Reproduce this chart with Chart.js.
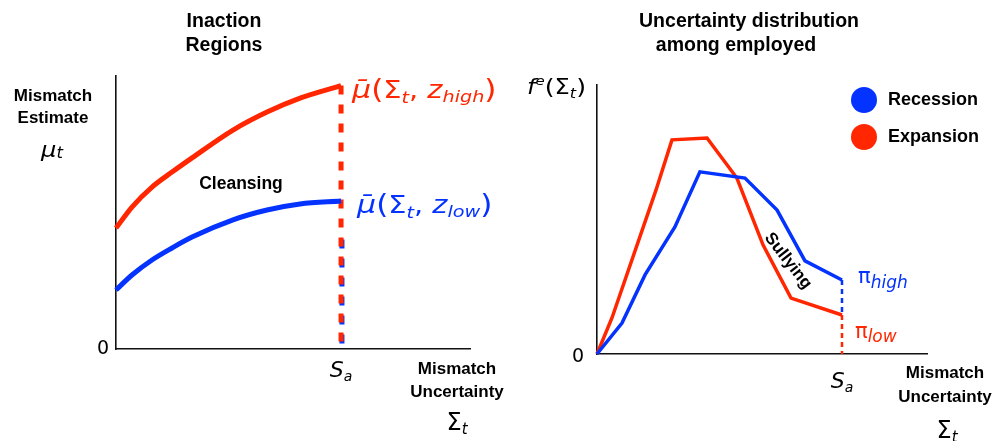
<!DOCTYPE html>
<html>
<head>
<meta charset="utf-8">
<script src="https://cdn.jsdelivr.net/npm/chart.js@4.4.1/dist/chart.umd.min.js"></script>
<style>
  html, body { margin: 0; padding: 0; background: #fff; }
  #wrap { position: relative; width: 997px; height: 441px; overflow: hidden; }
  #wrap canvas { position: absolute; left: 0; top: 0; }
</style>
</head>
<body>
<div id="wrap">
  <canvas id="inaction" width="997" height="441"></canvas>
  <canvas id="distribution" width="997" height="441"></canvas>
</div>
<script>
// ---- Inaction regions (uncertainty measured in units of S_a) ----
const SA = 1;
const sigmaGrid = [0, 0.071, 0.16, 0.249, 0.338, 0.52, 0.671, 0.818, 1];
const muHigh    = [0.443, 0.520, 0.593, 0.648, 0.700, 0.802, 0.868, 0.919, 0.965];
const muLow     = [0.216, 0.271, 0.326, 0.370, 0.410, 0.473, 0.509, 0.531, 0.542];
const lowDashTop = 0.41;

// ---- Uncertainty distribution among employed ----
const recessionX = [0, 0.102, 0.196, 0.318, 0.420, 0.604, 0.735, 0.849, 1];
const recessionY = [0, 0.115, 0.294, 0.472, 0.677, 0.654, 0.535, 0.346, 0.275];
const expansionX = [0, 0.061, 0.241, 0.306, 0.449, 0.571, 0.678, 0.792, 1];
const expansionY = [0, 0.134, 0.610, 0.796, 0.803, 0.654, 0.405, 0.208, 0.145];

const legendLabels = ['Recession', 'Expansion'];
const RED = '#ff2600';
const BLUE = '#0433ff';
const SANS = '"Liberation Sans", Arial, sans-serif';
const MATH = '"DejaVu Sans", sans-serif';
const DASH = [9, 10];

const pts = (xs, ys) => xs.map((x, i) => ({ x, y: ys[i] }));

// Draw a run of differently styled text pieces on one baseline,
// optionally stretched horizontally by hs.
function textRun(ctx, x, y, parts, color, align, hs) {
  hs = hs || 1;
  ctx.save();
  ctx.fillStyle = color;
  ctx.textBaseline = 'alphabetic';
  ctx.textAlign = 'left';
  let w = 0;
  for (const p of parts) { ctx.font = p[1]; w += ctx.measureText(p[0]).width; }
  const x0 = align === 'center' ? x - w * hs / 2 : x;
  ctx.translate(x0, y);
  ctx.scale(hs, 1);
  let cx = 0;
  for (const p of parts) {
    ctx.font = p[1];
    ctx.fillText(p[0], cx, p[2] || 0);
    cx += ctx.measureText(p[0]).width;
  }
  ctx.restore();
}

function label(ctx, text, x, y, font, color, align) {
  ctx.save();
  ctx.font = font;
  ctx.fillStyle = color || '#000';
  ctx.textAlign = align || 'center';
  ctx.textBaseline = 'middle';
  ctx.fillText(text, x, y);
  ctx.restore();
}

function axisScales(xMax) {
  const common = {
    type: 'linear',
    grid: { display: false, drawTicks: false },
    ticks: { display: false },
    border: { display: true, color: '#111', width: 1.6 }
  };
  return {
    x: Object.assign({}, common, { min: 0, max: xMax }),
    y: Object.assign({}, common, { min: 0, max: 1 })
  };
}

const baseOptions = {
  responsive: false,
  animation: false,
  events: [],
  plugins: { legend: { display: false }, tooltip: { enabled: false }, title: { display: false } },
  elements: { point: { radius: 0 } }
};

// ---------------- Left: inaction regions ----------------
const inactionText = {
  id: 'inactionText',
  afterDraw(chart) {
    const ctx = chart.ctx;
    const xs = chart.scales.x, ys = chart.scales.y;
    const xa = xs.getPixelForValue(SA);
    label(ctx, 'Inaction', 224, 22, 'bold 19.5px ' + SANS);
    label(ctx, 'Regions', 224, 46, 'bold 19.5px ' + SANS);
    label(ctx, 'Mismatch', 53, 96, 'bold 17px ' + SANS);
    label(ctx, 'Estimate', 53, 118, 'bold 17px ' + SANS);
    textRun(ctx, 52, 157, [['μ', 'italic 22px ' + MATH], ['t', 'italic 15px ' + MATH, 1]], '#000', 'center', 1.1);
    label(ctx, 'Cleansing', 241, 184, 'bold 17.5px ' + SANS);
    label(ctx, '0', 103, ys.getPixelForValue(0), '19px ' + MATH);
    textRun(ctx, xa, 377, [['S', 'italic 22px ' + MATH], ['a', 'italic 14px ' + MATH, 4]], '#000', 'center');
    label(ctx, 'Mismatch', 457, 369, 'bold 17px ' + SANS);
    label(ctx, 'Uncertainty', 457, 392, 'bold 17px ' + SANS);
    textRun(ctx, 457, 430, [['Σ', '24px ' + MATH], ['t', 'italic 15px ' + MATH, 4]], '#000', 'center');
    const yHigh = ys.getPixelForValue(muHigh[muHigh.length - 1]);
    const yLow = ys.getPixelForValue(muLow[muLow.length - 1]);
    const M = 'px ' + MATH;
    textRun(ctx, xa + 11, yHigh + 12, [
      ['μ̄', 'italic 25' + M], ['(', '26' + M], ['Σ', '24' + M], ['t', 'italic 16' + M, 5],
      [', ', '24' + M], ['z', 'italic 24' + M], ['high', 'italic 16' + M, 4], [')', '26' + M]
    ], RED, 'left', 1.2);
    textRun(ctx, xa + 16, yLow + 12, [
      ['μ̄', 'italic 25' + M], ['(', '26' + M], ['Σ', '24' + M], ['t', 'italic 16' + M, 5],
      [', ', '24' + M], ['z', 'italic 24' + M], ['low', 'italic 16' + M, 4], [')', '26' + M]
    ], BLUE, 'left', 1.2);
  }
};

// keep the low-threshold dashes in step with the high-threshold ones,
// shifted a couple of pixels down
function lowDashOffset(context) {
  const ys = context.chart.scales.y;
  if (!ys) return 0;
  const period = DASH[0] + DASH[1];
  const redTop = ys.getPixelForValue(muHigh[muHigh.length - 1]);
  const blueTop = ys.getPixelForValue(lowDashTop);
  return (((blueTop - redTop - 2) % period) + period) % period;
}

new Chart(document.getElementById('inaction'), {
  type: 'line',
  data: {
    datasets: [
      { data: pts(sigmaGrid, muHigh), borderColor: RED, borderWidth: 5, cubicInterpolationMode: 'monotone', clip: false },
      { data: pts(sigmaGrid, muLow), borderColor: BLUE, borderWidth: 5, cubicInterpolationMode: 'monotone', clip: false },
      { data: [{ x: SA, y: muHigh[muHigh.length - 1] }, { x: SA, y: 0 }], borderColor: RED, borderWidth: 5, borderDash: DASH, clip: false },
      { data: [{ x: SA + 0.004, y: lowDashTop }, { x: SA + 0.004, y: 0 }], borderColor: BLUE, borderWidth: 5, borderDash: DASH, borderDashOffset: lowDashOffset, clip: false }
    ]
  },
  options: Object.assign({}, baseOptions, {
    layout: { padding: { left: 116, top: 76, right: 527, bottom: 92 } },
    scales: axisScales(1.573)
  }),
  plugins: [inactionText]
});

// ---------------- Right: uncertainty distribution ----------------
const distributionText = {
  id: 'distributionText',
  afterDraw(chart) {
    const ctx = chart.ctx;
    const xs = chart.scales.x, ys = chart.scales.y;
    const xa = xs.getPixelForValue(SA);
    label(ctx, 'Uncertainty distribution', 749, 22, 'bold 19.5px ' + SANS);
    label(ctx, 'among employed', 736, 46, 'bold 19.5px ' + SANS);
    const M = 'px ' + MATH;
    textRun(ctx, 527, 94, [
      ['f', 'italic 21' + M], ['e', 'italic 13' + M, -9], ['(', '22' + M], ['Σ', '21' + M],
      ['t', 'italic 14' + M, 4], [')', '22' + M]
    ], '#000', 'left', 1.15);
    label(ctx, '0', 578, ys.getPixelForValue(0) + 3, '19px ' + MATH);
    textRun(ctx, xa, 388, [['S', 'italic 22' + M], ['a', 'italic 14' + M, 4]], '#000', 'center');
    label(ctx, 'Mismatch', 945, 373, 'bold 17px ' + SANS);
    label(ctx, 'Uncertainty', 945, 397, 'bold 17px ' + SANS);
    textRun(ctx, 947, 438, [['Σ', '24' + M], ['t', 'italic 15' + M, 4]], '#000', 'center');

    const yHigh = ys.getPixelForValue(recessionY[recessionY.length - 1]);
    const yLow = ys.getPixelForValue(expansionY[expansionY.length - 1]);
    textRun(ctx, xa + 16, yHigh + 3, [['π', '21' + M], ['high', 'italic 17' + M, 5]], BLUE);
    textRun(ctx, xa + 13, yLow + 23, [['π', '21' + M], ['low', 'italic 17' + M, 4]], RED);

    // legend
    const colors = [BLUE, RED];
    legendLabels.forEach((t, i) => {
      const cy = 100 + i * 37;
      ctx.save();
      ctx.fillStyle = colors[i];
      ctx.beginPath();
      ctx.arc(864, cy, 13, 0, Math.PI * 2);
      ctx.fill();
      ctx.restore();
      label(ctx, t, 888, cy, 'bold 18px ' + SANS, '#000', 'left');
    });

    // region label along the falling segments
    ctx.save();
    ctx.translate(788, 261);
    ctx.rotate(52 * Math.PI / 180);
    label(ctx, 'Sullying', 0, 0, 'bold 17px ' + SANS);
    ctx.restore();
  }
};

new Chart(document.getElementById('distribution'), {
  type: 'line',
  data: {
    datasets: [
      { data: pts(recessionX, recessionY), borderColor: BLUE, borderWidth: 3.5, tension: 0, clip: false, borderJoinStyle: 'miter' },
      { data: pts(expansionX, expansionY), borderColor: RED, borderWidth: 3.5, tension: 0, clip: false, borderJoinStyle: 'miter' },
      { data: [{ x: SA, y: recessionY[recessionY.length - 1] }, { x: SA, y: expansionY[expansionY.length - 1] }], borderColor: BLUE, borderWidth: 2.5, borderDash: [5, 4], clip: false },
      { data: [{ x: SA, y: expansionY[expansionY.length - 1] }, { x: SA, y: 0 }], borderColor: RED, borderWidth: 2.5, borderDash: [5, 4], clip: false }
    ]
  },
  options: Object.assign({}, baseOptions, {
    layout: { padding: { left: 597, top: 85, right: 70, bottom: 87 } },
    scales: axisScales(1.347)
  }),
  plugins: [distributionText]
});
</script>
</body>
</html>
